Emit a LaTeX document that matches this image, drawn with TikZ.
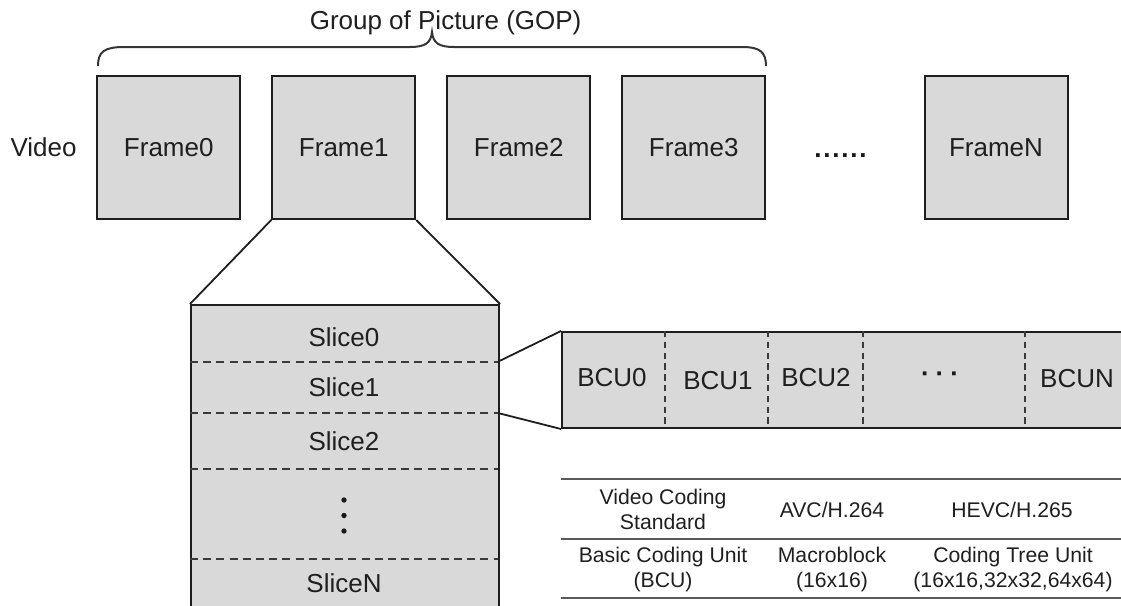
\documentclass[tikz,border=0pt]{standalone}
\usepackage{fontspec}
\setmainfont{Liberation Sans}
\definecolor{boxgray}{HTML}{D9D9D9}
\definecolor{edge}{HTML}{1E1E1E}
\definecolor{dashgray}{HTML}{3A3A3A}
\definecolor{rulegray}{HTML}{5A5A5A}
\tikzset{
  txt/.style={font=\fontsize{13}{15}\selectfont, inner sep=0pt, text=black!88},
  dotmark/.style={font=\fontsize{13}{15}\bfseries, inner sep=0pt, text=black!90},
  tabtxt/.style={font=\fontsize{10.6}{12.5}\selectfont, inner sep=0pt, align=center, text=black!88},
  framebox/.style={txt, draw=edge, line width=1pt, fill=boxgray,
    minimum width=71.5pt, minimum height=71.5pt},
  panel/.style={draw=edge, line width=1pt, fill=boxgray, inner sep=0pt, anchor=north west},
  conn/.style={draw=edge, line width=0.9pt},
  hsep/.style={draw=dashgray, line width=0.9pt, dash pattern=on 4pt off 2.6pt},
  vsep/.style={draw=dashgray, line width=0.9pt, dash pattern=on 3.2pt off 2.2pt},
  tabrule/.style={draw=rulegray, line width=1.3pt},
  brace/.style={draw=edge!90, line width=1pt}
}
\begin{document}
\begin{tikzpicture}[x=0.5pt,y=-0.5pt]
\clip (0,0) rectangle (1121,606);

% GOP brace and its title
\node[txt] (gop) at (445.6,23) {Group of Picture (GOP)};
\draw[brace] (98,66) .. controls (98,52) and (104,47) .. (124,47) -- (410,47)
  .. controls (425,47) and (431,43) .. (432,32)
  .. controls (433,43) and (439,47) .. (454,47) -- (742,47)
  .. controls (760,47) and (766,52) .. (766,66);

% the video as a row of frames
\node[txt] (video) at (43.6,147.5) {Video};
\node[framebox] (f0) at (168.75,147.5) {Frame0};
\node[framebox] (f1) at (343.75,147.5) {Frame1};
\node[framebox] (f2) at (518.75,147.5) {Frame2};
\node[framebox] (f3) at (693.75,147.5) {Frame3};
\node[dotmark] (fdots) at (840.5,156) {.\kern0.9pt.\kern0.9pt.\kern0.9pt.\kern0.9pt.\kern0.9pt.};
\node[framebox] (fN) at (996,147.5) {FrameN};

% one frame split into slices
\node[panel, minimum width=154pt, minimum height=163pt] (slices) at (190,304) {};
\draw[hsep] (190,361.7) -- (498,361.7);
\draw[hsep] (190,413) -- (498,413);
\draw[hsep] (190,469) -- (498,469);
\draw[hsep] (190,559) -- (498,559);
\coordinate (cutA) at (498,361.7);
\coordinate (cutB) at (498,413);
\node[txt] (s0) at (344,337) {Slice0};
\node[txt] (s1) at (344,387) {Slice1};
\node[txt] (s2) at (344,441) {Slice2};
% vertical ellipsis between Slice2 and SliceN
\foreach \yy in {500,515.5,531} \fill[black!90] (344,\yy) circle[radius=1.35pt];
\node[txt] (sN) at (344,583) {SliceN};

\draw[conn] (f1.south west) -- (slices.north west);
\draw[conn] (f1.south east) -- (slices.north east);

% one slice split into basic coding units
\node[panel, minimum width=295pt, minimum height=48pt] (strip) at (561,331) {};
\draw[vsep] (665,331) -- (665,427);
\draw[vsep] (767.7,331) -- (767.7,427);
\draw[vsep] (863,331) -- (863,427);
\draw[vsep] (1025,331) -- (1025,427);
\node[txt] (b0) at (612,378) {BCU0};
\node[txt] (b1) at (718,381) {BCU1};
\node[txt] (b2) at (816,378) {BCU2};
\node[dotmark] (bdots) at (940,377) {\textperiodcentered\kern3pt\textperiodcentered\kern3pt\textperiodcentered};
\node[txt] (bN) at (1077,379) {BCUN};

\draw[conn] (cutA) -- (strip.north west);
\draw[conn] (cutB) -- (strip.south west);

% coding standards table
\draw[tabrule] (561,479) -- (1125,479);
\draw[tabrule] (561,539) -- (1125,539);
\draw[tabrule] (561,598) -- (1125,598);
\node[tabtxt] (h1) at (663,509) {Video Coding\\Standard};
\node[tabtxt] (h2) at (832,510) {AVC/H.264};
\node[tabtxt] (h3) at (1012,510) {HEVC/H.265};
\node[tabtxt] (r1) at (663,570) {Basic Coding Unit\\(BCU)};
\node[tabtxt] (r2) at (832,570) {Macroblock\\(16x16)};
\node[tabtxt] (r3) at (1013,570) {Coding Tree Unit\\(16x16,32x32,64x64)};
\end{tikzpicture}
\end{document}
